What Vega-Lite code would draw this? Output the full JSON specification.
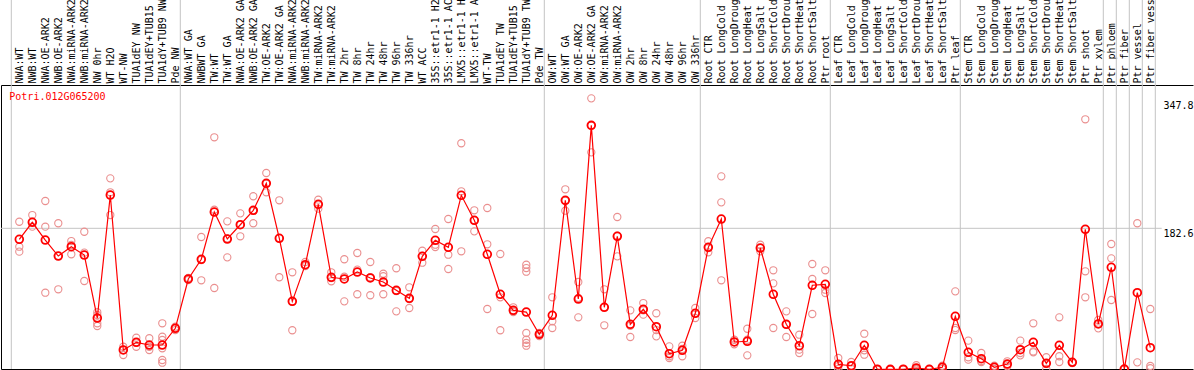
{
 "$schema": "https://vega.github.io/schema/vega-lite/v6.json",
 "width": 1192,
 "height": 284,
 "autosize": "none",
 "padding": {"left": 1, "top": 85, "right": 1, "bottom": 1},
 "background": "white",
 "config": {"view": {"stroke": null}, "font": "DejaVu Sans Mono"},
 "datasets": {
  "means": [
   {"c":"NWA:WT","v":168.4},{"c":"NWB:WT","v":190.3},{"c":"NWA:OE-ARK2","v":167.5},{"c":"NWB:OE-ARK2","v":146.9},{"c":"NWA:miRNA-ARK2","v":158.9},{"c":"NWB:miRNA-ARK2","v":148.2},{"c":"NW 0hr","v":67.0},{"c":"WT H2O","v":225.5},{"c":"WT-NW","v":25.8},{"c":"TUA1dEY NW","v":35.7},{"c":"TUA1dEY+TUB15 NW","v":32.2},{"c":"TUA1dY+TUB9 NW","v":32.2},{"c":"Pde NW","v":53.7},
   {"c":"NWA:WT GA","v":117.3},{"c":"NWBWT GA","v":142.7},{"c":"TW:WT","v":203.6},{"c":"TW:WT GA","v":168.8},{"c":"NWA:OE-ARK2 GA","v":187.2},{"c":"NWB:OE-ARK2 GA","v":205.8},{"c":"TW:OE-ARK2","v":240.6},{"c":"TW:OE-ARK2 GA","v":169.7},{"c":"NWA:miRNA-ARK2 GA","v":88.5},{"c":"NWB:miRNA-ARK2 GA","v":135.7},{"c":"TW:miRNA-ARK2","v":213.5},{"c":"TW:miRNA-ARK2 GA","v":119.5},{"c":"TW 2hr","v":117.3},{"c":"TW 8hr","v":126.3},{"c":"TW 24hr","v":118.6},{"c":"TW 48hr","v":113.4},{"c":"TW 96hr","v":102.7},{"c":"TW 336hr","v":92.4},{"c":"WT ACC","v":146.5},{"c":"35S::etr1-1 H2O","v":167.1},{"c":"35S::etr1-1 ACC","v":158.1},{"c":"LMX5::etr1-1 H2O","v":225.1},{"c":"LMX5::etr1-1 ACC","v":192.9},{"c":"WT-TW","v":149.1},{"c":"TUA1dEY TW","v":97.6},{"c":"TUA1dEY+TUB15 TW","v":76.9},{"c":"TUA1dY+TUB9 TW","v":74.7},{"c":"Pde TW","v":46.0},
   {"c":"OW:WT","v":70.5},{"c":"OW:WT GA","v":218.7},{"c":"OW:OE-ARK2","v":91.5},{"c":"OW:OE-ARK2 GA","v":315.3},{"c":"OW:miRNA-ARK2","v":80.8},{"c":"OW:miRNA-ARK2 GA","v":172.3},{"c":"OW 2hr","v":58.9},{"c":"OW 8hr","v":78.2},{"c":"OW 24hr","v":55.8},{"c":"OW 48hr","v":21.0},{"c":"OW 96hr","v":25.4},{"c":"OW 336hr","v":73.1},
   {"c":"Root CTR","v":158.1},{"c":"Root LongCold","v":194.6},{"c":"Root LongDrought","v":36.1},{"c":"Root LongHeat","v":37.0},{"c":"Root LongSalt","v":157.2},{"c":"Root ShortCold","v":97.6},{"c":"Root ShortDrought","v":58.9},{"c":"Root ShortHeat","v":31.3},{"c":"Root ShortSalt","v":109.2},{"c":"Ptr root","v":110.4},
   {"c":"Leaf CTR","v":7.3},{"c":"Leaf LongCold","v":5.5},{"c":"Leaf LongDrought","v":31.8},{"c":"Leaf LongHeat","v":1.0},{"c":"Leaf LongSalt","v":0.8},{"c":"Leaf ShortCold","v":1.0},{"c":"Leaf ShortDrought","v":2.6},{"c":"Leaf ShortHeat","v":0.9},{"c":"Leaf ShortSalt","v":3.5},{"c":"Ptr leaf","v":69.2},
   {"c":"Stem CTR","v":22.8},{"c":"Stem LongCold","v":14.6},{"c":"Stem LongDrought","v":3.5},{"c":"Stem LongHeat","v":7.7},{"c":"Stem LongSalt","v":26.2},{"c":"Stem ShortCold","v":35.7},{"c":"Stem ShortDrought","v":8.6},{"c":"Stem ShortHeat","v":31.8},{"c":"Stem ShortSalt","v":9.9},{"c":"Ptr shoot","v":181.3},{"c":"Ptr xylem","v":59.3},
   {"c":"Ptr phloem","v":132.4},{"c":"Ptr fiber","v":1.2},{"c":"Ptr vessel","v":99.6},{"c":"Ptr fiber vessel","v":28.7}
  ],
  "reps": [
   {"c":"NWA:WT","v":191.1},{"c":"NWA:WT","v":158.9},{"c":"NWA:WT","v":152.5},
   {"c":"NWB:WT","v":199.7},{"c":"NWB:WT","v":184.7},{"c":"NWB:WT","v":191.1},
   {"c":"NWA:OE-ARK2","v":217.8},{"c":"NWA:OE-ARK2","v":184.7},{"c":"NWA:OE-ARK2","v":99.6},
   {"c":"NWB:OE-ARK2","v":189.1},{"c":"NWB:OE-ARK2","v":104.0},{"c":"NWB:OE-ARK2","v":146.9},
   {"c":"NWA:miRNA-ARK2","v":166.2},{"c":"NWA:miRNA-ARK2","v":149.1},{"c":"NWA:miRNA-ARK2","v":161.1},
   {"c":"NWB:miRNA-ARK2","v":178.2},{"c":"NWB:miRNA-ARK2","v":151.2},{"c":"NWB:miRNA-ARK2","v":114.7},
   {"c":"NW 0hr","v":74.4},{"c":"NW 0hr","v":70.9},{"c":"NW 0hr","v":60.2},{"c":"NW 0hr","v":56.7},
   {"c":"WT H2O","v":247.0},{"c":"WT H2O","v":229.0},{"c":"WT H2O","v":199.7},
   {"c":"WT-NW","v":30.0},{"c":"WT-NW","v":19.3},{"c":"WT-NW","v":25.8},
   {"c":"TUA1dEY NW","v":41.6},{"c":"TUA1dEY NW","v":30.0},{"c":"TUA1dEY NW","v":35.4},
   {"c":"TUA1dEY+TUB15 NW","v":40.9},{"c":"TUA1dEY+TUB15 NW","v":25.8},{"c":"TUA1dEY+TUB15 NW","v":30.0},
   {"c":"TUA1dY+TUB9 NW","v":60.2},{"c":"TUA1dY+TUB9 NW","v":42.9},{"c":"TUA1dY+TUB9 NW","v":38.7},{"c":"TUA1dY+TUB9 NW","v":28.0},{"c":"TUA1dY+TUB9 NW","v":12.9},{"c":"TUA1dY+TUB9 NW","v":9.4},
   {"c":"Pde NW","v":55.8},{"c":"Pde NW","v":51.5},{"c":"Pde NW","v":53.7},
   {"c":"NWA:WT GA","v":118.6},{"c":"NWA:WT GA","v":116.0},{"c":"NWA:WT GA","v":117.3},
   {"c":"NWBWT GA","v":171.4},{"c":"NWBWT GA","v":115.6},{"c":"NWBWT GA","v":141.8},
   {"c":"TW:WT","v":299.9},{"c":"TW:WT","v":206.6},{"c":"TW:WT","v":105.7},
   {"c":"TW:WT GA","v":191.6},{"c":"TW:WT GA","v":145.2},{"c":"TW:WT GA","v":169.5},
   {"c":"NWA:OE-ARK2 GA","v":201.9},{"c":"NWA:OE-ARK2 GA","v":172.3},{"c":"NWA:OE-ARK2 GA","v":187.2},
   {"c":"NWB:OE-ARK2 GA","v":223.9},{"c":"NWB:OE-ARK2 GA","v":189.1},{"c":"NWB:OE-ARK2 GA","v":205.0},
   {"c":"TW:OE-ARK2","v":253.9},{"c":"TW:OE-ARK2","v":229.0},{"c":"TW:OE-ARK2","v":240.0},
   {"c":"TW:OE-ARK2 GA","v":218.7},{"c":"TW:OE-ARK2 GA","v":119.5},{"c":"TW:OE-ARK2 GA","v":170.0},
   {"c":"NWA:miRNA-ARK2 GA","v":125.9},{"c":"NWA:miRNA-ARK2 GA","v":51.2},{"c":"NWA:miRNA-ARK2 GA","v":88.0},
   {"c":"NWB:miRNA-ARK2 GA","v":139.2},{"c":"NWB:miRNA-ARK2 GA","v":134.4},{"c":"NWB:miRNA-ARK2 GA","v":134.0},
   {"c":"TW:miRNA-ARK2","v":219.5},{"c":"TW:miRNA-ARK2","v":207.9},{"c":"TW:miRNA-ARK2","v":213.3},
   {"c":"TW:miRNA-ARK2 GA","v":125.9},{"c":"TW:miRNA-ARK2 GA","v":114.3},{"c":"TW:miRNA-ARK2 GA","v":118.6},
   {"c":"TW 2hr","v":142.7},{"c":"TW 2hr","v":88.5},{"c":"TW 2hr","v":120.2},
   {"c":"TW 8hr","v":150.8},{"c":"TW 8hr","v":129.3},{"c":"TW 8hr","v":97.6},
   {"c":"TW 24hr","v":139.2},{"c":"TW 24hr","v":119.5},{"c":"TW 24hr","v":96.3},
   {"c":"TW 48hr","v":124.1},{"c":"TW 48hr","v":120.8},{"c":"TW 48hr","v":97.6},
   {"c":"TW 96hr","v":131.1},{"c":"TW 96hr","v":75.6},{"c":"TW 96hr","v":101.8},
   {"c":"TW 336hr","v":106.6},{"c":"TW 336hr","v":79.9},{"c":"TW 336hr","v":91.5},
   {"c":"WT ACC","v":153.7},{"c":"WT ACC","v":138.3},{"c":"WT ACC","v":146.9},
   {"c":"35S::etr1-1 H2O","v":181.7},{"c":"35S::etr1-1 H2O","v":161.5},{"c":"35S::etr1-1 H2O","v":158.5},
   {"c":"35S::etr1-1 ACC","v":194.6},{"c":"35S::etr1-1 ACC","v":148.6},{"c":"35S::etr1-1 ACC","v":130.2},
   {"c":"LMX5::etr1-1 H2O","v":292.2},{"c":"LMX5::etr1-1 H2O","v":230.3},{"c":"LMX5::etr1-1 H2O","v":153.0},
   {"c":"LMX5::etr1-1 ACC","v":205.8},{"c":"LMX5::etr1-1 ACC","v":178.7},{"c":"LMX5::etr1-1 ACC","v":193.0},
   {"c":"WT-TW","v":208.8},{"c":"WT-TW","v":162.0},{"c":"WT-TW","v":78.6},
   {"c":"TUA1dEY TW","v":149.5},{"c":"TUA1dEY TW","v":93.7},{"c":"TUA1dEY TW","v":51.2},
   {"c":"TUA1dEY+TUB15 TW","v":80.8},{"c":"TUA1dEY+TUB15 TW","v":74.7},{"c":"TUA1dEY+TUB15 TW","v":76.0},
   {"c":"TUA1dY+TUB9 TW","v":135.7},{"c":"TUA1dY+TUB9 TW","v":131.4},{"c":"TUA1dY+TUB9 TW","v":126.7},{"c":"TUA1dY+TUB9 TW","v":47.7},{"c":"TUA1dY+TUB9 TW","v":39.0},{"c":"TUA1dY+TUB9 TW","v":34.8},{"c":"TUA1dY+TUB9 TW","v":31.3},
   {"c":"Pde TW","v":47.7},{"c":"Pde TW","v":43.8},{"c":"Pde TW","v":46.5},
   {"c":"OW:WT","v":93.7},{"c":"OW:WT","v":62.8},{"c":"OW:WT","v":54.1},
   {"c":"OW:WT GA","v":232.9},{"c":"OW:WT GA","v":205.3},{"c":"OW:WT GA","v":218.0},
   {"c":"OW:OE-ARK2","v":113.4},{"c":"OW:OE-ARK2","v":67.9},{"c":"OW:OE-ARK2","v":93.0},
   {"c":"OW:OE-ARK2 GA","v":350.1},{"c":"OW:OE-ARK2 GA","v":280.5},{"c":"OW:OE-ARK2 GA","v":315.0},
   {"c":"OW:miRNA-ARK2","v":104.0},{"c":"OW:miRNA-ARK2","v":57.6},{"c":"OW:miRNA-ARK2","v":81.0},
   {"c":"OW:miRNA-ARK2 GA","v":197.2},{"c":"OW:miRNA-ARK2 GA","v":146.5},{"c":"OW:miRNA-ARK2 GA","v":173.0},
   {"c":"OW 2hr","v":76.9},{"c":"OW 2hr","v":42.5},{"c":"OW 2hr","v":57.0},
   {"c":"OW 8hr","v":86.3},{"c":"OW 8hr","v":71.3},{"c":"OW 8hr","v":77.0},
   {"c":"OW 24hr","v":73.1},{"c":"OW 24hr","v":43.4},{"c":"OW 24hr","v":51.5},
   {"c":"OW 48hr","v":30.5},{"c":"OW 48hr","v":17.7},{"c":"OW 48hr","v":15.5},
   {"c":"OW 96hr","v":31.3},{"c":"OW 96hr","v":17.7},{"c":"OW 96hr","v":27.1},
   {"c":"OW 336hr","v":79.9},{"c":"OW 336hr","v":67.0},{"c":"OW 336hr","v":73.0},
   {"c":"Root CTR","v":165.9},{"c":"Root CTR","v":151.7},{"c":"Root CTR","v":157.0},
   {"c":"Root LongCold","v":249.6},{"c":"Root LongCold","v":216.1},{"c":"Root LongCold","v":115.6},
   {"c":"Root LongDrought","v":39.0},{"c":"Root LongDrought","v":33.1},{"c":"Root LongDrought","v":36.0},
   {"c":"Root LongHeat","v":53.2},{"c":"Root LongHeat","v":39.0},{"c":"Root LongHeat","v":18.9},
   {"c":"Root LongSalt","v":161.5},{"c":"Root LongSalt","v":153.0},{"c":"Root LongSalt","v":157.0},
   {"c":"Root ShortCold","v":128.5},{"c":"Root ShortCold","v":111.7},{"c":"Root ShortCold","v":54.1},
   {"c":"Root ShortDrought","v":75.6},{"c":"Root ShortDrought","v":42.5},{"c":"Root ShortDrought","v":58.6},
   {"c":"Root ShortHeat","v":45.5},{"c":"Root ShortHeat","v":26.2},{"c":"Root ShortHeat","v":21.9},
   {"c":"Root ShortSalt","v":136.6},{"c":"Root ShortSalt","v":117.3},{"c":"Root ShortSalt","v":72.2},
   {"c":"Ptr root","v":128.5},{"c":"Ptr root","v":103.5},{"c":"Ptr root","v":99.2},
   {"c":"Leaf CTR","v":15.5},{"c":"Leaf CTR","v":1.3},{"c":"Leaf CTR","v":5.0},
   {"c":"Leaf LongCold","v":10.3},{"c":"Leaf LongCold","v":1.3},{"c":"Leaf LongCold","v":5.0},
   {"c":"Leaf LongDrought","v":46.8},{"c":"Leaf LongDrought","v":25.4},{"c":"Leaf LongDrought","v":19.7},
   {"c":"Leaf LongHeat","v":0.5},{"c":"Leaf LongHeat","v":1.5},{"c":"Leaf LongHeat","v":1.0},
   {"c":"Leaf LongSalt","v":0.3},{"c":"Leaf LongSalt","v":1.2},{"c":"Leaf LongSalt","v":0.8},
   {"c":"Leaf ShortCold","v":0.6},{"c":"Leaf ShortCold","v":1.4},{"c":"Leaf ShortCold","v":1.0},
   {"c":"Leaf ShortDrought","v":6.1},{"c":"Leaf ShortDrought","v":1.3},{"c":"Leaf ShortDrought","v":0.5},
   {"c":"Leaf ShortHeat","v":0.4},{"c":"Leaf ShortHeat","v":1.4},{"c":"Leaf ShortHeat","v":0.9},
   {"c":"Leaf ShortSalt","v":5.5},{"c":"Leaf ShortSalt","v":1.3},{"c":"Leaf ShortSalt","v":3.7},
   {"c":"Ptr leaf","v":101.4},{"c":"Ptr leaf","v":54.1},{"c":"Ptr leaf","v":51.5},
   {"c":"Stem CTR","v":37.8},{"c":"Stem CTR","v":16.4},{"c":"Stem CTR","v":13.3},
   {"c":"Stem LongCold","v":21.9},{"c":"Stem LongCold","v":10.3},{"c":"Stem LongCold","v":11.6},
   {"c":"Stem LongDrought","v":5.5},{"c":"Stem LongDrought","v":1.3},{"c":"Stem LongDrought","v":3.7},
   {"c":"Stem LongHeat","v":11.2},{"c":"Stem LongHeat","v":4.8},{"c":"Stem LongHeat","v":7.1},
   {"c":"Stem LongSalt","v":37.8},{"c":"Stem LongSalt","v":18.9},{"c":"Stem LongSalt","v":21.9},
   {"c":"Stem ShortCold","v":60.2},{"c":"Stem ShortCold","v":22.8},{"c":"Stem ShortCold","v":24.0},
   {"c":"Stem ShortDrought","v":16.4},{"c":"Stem ShortDrought","v":1.3},{"c":"Stem ShortDrought","v":8.1},
   {"c":"Stem ShortHeat","v":67.9},{"c":"Stem ShortHeat","v":17.7},{"c":"Stem ShortHeat","v":10.3},
   {"c":"Stem ShortSalt","v":9.0},{"c":"Stem ShortSalt","v":10.5},{"c":"Stem ShortSalt","v":10.2},
   {"c":"Ptr shoot","v":323.1},{"c":"Ptr shoot","v":127.2},{"c":"Ptr shoot","v":93.7},
   {"c":"Ptr xylem","v":64.4},{"c":"Ptr xylem","v":53.7},{"c":"Ptr xylem","v":59.8},
   {"c":"Ptr phloem","v":162.4},{"c":"Ptr phloem","v":143.9},{"c":"Ptr phloem","v":90.2},
   {"c":"Ptr fiber","v":0.6},{"c":"Ptr fiber","v":1.5},{"c":"Ptr fiber","v":1.5},
   {"c":"Ptr vessel","v":189.1},{"c":"Ptr vessel","v":9.9},
   {"c":"Ptr fiber vessel","v":78.6},{"c":"Ptr fiber vessel","v":5.2},{"c":"Ptr fiber vessel","v":2.3}
  ],
  "groupStarts": [
   {"c":"NWA:WT"},{"c":"NWA:WT GA"},{"c":"OW:WT"},{"c":"Root CTR"},{"c":"Leaf CTR"},{"c":"Stem CTR"},{"c":"Ptr phloem"},{"c":"Ptr fiber"},{"c":"Ptr vessel"},{"c":"Ptr fiber vessel"}
  ],
  "groupEnd": [{"c":"Ptr fiber vessel"}],
  "refLine": [{"c":"NWA:WT","c2":"Ptr fiber vessel"}],
  "titleText": [{"c":"NWA:WT","t":"Potri.012G065200"}]
 },
 "encoding": {
  "x": {"field": "c", "type": "nominal", "sort": null,
   "scale": {"type": "point", "padding": 0.34615, "align": 0.5889,
    "domain": [" ","NWA:WT","NWB:WT","NWA:OE-ARK2","NWB:OE-ARK2","NWA:miRNA-ARK2","NWB:miRNA-ARK2","NW 0hr","WT H2O","WT-NW","TUA1dEY NW","TUA1dEY+TUB15 NW","TUA1dY+TUB9 NW","Pde NW","NWA:WT GA","NWBWT GA","TW:WT","TW:WT GA","NWA:OE-ARK2 GA","NWB:OE-ARK2 GA","TW:OE-ARK2","TW:OE-ARK2 GA","NWA:miRNA-ARK2 GA","NWB:miRNA-ARK2 GA","TW:miRNA-ARK2","TW:miRNA-ARK2 GA","TW 2hr","TW 8hr","TW 24hr","TW 48hr","TW 96hr","TW 336hr","WT ACC","35S::etr1-1 H2O","35S::etr1-1 ACC","LMX5::etr1-1 H2O","LMX5::etr1-1 ACC","WT-TW","TUA1dEY TW","TUA1dEY+TUB15 TW","TUA1dY+TUB9 TW","Pde TW","OW:WT","OW:WT GA","OW:OE-ARK2","OW:OE-ARK2 GA","OW:miRNA-ARK2","OW:miRNA-ARK2 GA","OW 2hr","OW 8hr","OW 24hr","OW 48hr","OW 96hr","OW 336hr","Root CTR","Root LongCold","Root LongDrought","Root LongHeat","Root LongSalt","Root ShortCold","Root ShortDrought","Root ShortHeat","Root ShortSalt","Ptr root","Leaf CTR","Leaf LongCold","Leaf LongDrought","Leaf LongHeat","Leaf LongSalt","Leaf ShortCold","Leaf ShortDrought","Leaf ShortHeat","Leaf ShortSalt","Ptr leaf","Stem CTR","Stem LongCold","Stem LongDrought","Stem LongHeat","Stem LongSalt","Stem ShortCold","Stem ShortDrought","Stem ShortHeat","Stem ShortSalt","Ptr shoot","Ptr xylem","Ptr phloem","Ptr fiber","Ptr vessel","Ptr fiber vessel","  ","   ","    "]},
   "axis": null}
 },
 "layer": [
  {"data": {"name": "groupStarts"},
   "mark": {"type": "rule", "color": "#c4c4c4", "strokeWidth": 1, "xOffset": -8},
   "encoding": {"y": {"datum": 480, "type": "quantitative", "scale": {"domain": [1.29, 367.3], "nice": false, "zero": false}, "axis": null}, "y2": {"datum": 1.29}}},
  {"data": {"name": "groupEnd"},
   "mark": {"type": "rule", "color": "#c4c4c4", "strokeWidth": 1, "xOffset": 5},
   "encoding": {"y": {"datum": 480, "type": "quantitative", "scale": {"domain": [1.29, 367.3], "nice": false, "zero": false}, "axis": null}, "y2": {"datum": 1.29}}},
  {"data": {"name": "refLine"},
   "mark": {"type": "rule", "color": "#c4c4c4", "strokeWidth": 1, "xOffset": -18.3, "x2Offset": 11.4},
   "encoding": {"x2": {"field": "c2"}, "y": {"datum": 182.6, "type": "quantitative", "scale": {"domain": [1.29, 367.3], "nice": false, "zero": false}, "axis": null}}},
  {"data": {"name": "reps"},
   "mark": {"type": "point", "shape": "circle", "filled": false, "size": 52, "stroke": "#ea8f8f", "strokeWidth": 1.1, "opacity": 1},
   "encoding": {
    "x": {"field": "c", "type": "nominal", "sort": null,
     "scale": {"type": "point", "padding": 0.34615, "align": 0.5889,
      "domain": [" ","NWA:WT","NWB:WT","NWA:OE-ARK2","NWB:OE-ARK2","NWA:miRNA-ARK2","NWB:miRNA-ARK2","NW 0hr","WT H2O","WT-NW","TUA1dEY NW","TUA1dEY+TUB15 NW","TUA1dY+TUB9 NW","Pde NW","NWA:WT GA","NWBWT GA","TW:WT","TW:WT GA","NWA:OE-ARK2 GA","NWB:OE-ARK2 GA","TW:OE-ARK2","TW:OE-ARK2 GA","NWA:miRNA-ARK2 GA","NWB:miRNA-ARK2 GA","TW:miRNA-ARK2","TW:miRNA-ARK2 GA","TW 2hr","TW 8hr","TW 24hr","TW 48hr","TW 96hr","TW 336hr","WT ACC","35S::etr1-1 H2O","35S::etr1-1 ACC","LMX5::etr1-1 H2O","LMX5::etr1-1 ACC","WT-TW","TUA1dEY TW","TUA1dEY+TUB15 TW","TUA1dY+TUB9 TW","Pde TW","OW:WT","OW:WT GA","OW:OE-ARK2","OW:OE-ARK2 GA","OW:miRNA-ARK2","OW:miRNA-ARK2 GA","OW 2hr","OW 8hr","OW 24hr","OW 48hr","OW 96hr","OW 336hr","Root CTR","Root LongCold","Root LongDrought","Root LongHeat","Root LongSalt","Root ShortCold","Root ShortDrought","Root ShortHeat","Root ShortSalt","Ptr root","Leaf CTR","Leaf LongCold","Leaf LongDrought","Leaf LongHeat","Leaf LongSalt","Leaf ShortCold","Leaf ShortDrought","Leaf ShortHeat","Leaf ShortSalt","Ptr leaf","Stem CTR","Stem LongCold","Stem LongDrought","Stem LongHeat","Stem LongSalt","Stem ShortCold","Stem ShortDrought","Stem ShortHeat","Stem ShortSalt","Ptr shoot","Ptr xylem","Ptr phloem","Ptr fiber","Ptr vessel","Ptr fiber vessel","  ","   ","    "]},
     "axis": {"orient": "bottom", "title": null, "labels": false, "ticks": false, "tickSize": 0, "grid": false, "domain": true, "domainColor": "#000000", "domainWidth": 1}},
    "y": {"field": "v", "type": "quantitative", "scale": {"domain": [1.29, 367.3], "nice": false, "zero": false},
     "axis": {"orient": "left", "title": null, "labels": false, "ticks": false, "tickSize": 0, "grid": false, "domain": true, "domainColor": "#000000", "domainWidth": 1}}
   }},
  {"data": {"name": "means"},
   "mark": {"type": "line", "color": "#ff0000", "strokeWidth": 1.2},
   "encoding": {
    "order": {"value": null},
    "x": {"field": "c", "type": "nominal", "sort": null,
     "scale": {"type": "point", "padding": 0.34615, "align": 0.5889,
      "domain": [" ","NWA:WT","NWB:WT","NWA:OE-ARK2","NWB:OE-ARK2","NWA:miRNA-ARK2","NWB:miRNA-ARK2","NW 0hr","WT H2O","WT-NW","TUA1dEY NW","TUA1dEY+TUB15 NW","TUA1dY+TUB9 NW","Pde NW","NWA:WT GA","NWBWT GA","TW:WT","TW:WT GA","NWA:OE-ARK2 GA","NWB:OE-ARK2 GA","TW:OE-ARK2","TW:OE-ARK2 GA","NWA:miRNA-ARK2 GA","NWB:miRNA-ARK2 GA","TW:miRNA-ARK2","TW:miRNA-ARK2 GA","TW 2hr","TW 8hr","TW 24hr","TW 48hr","TW 96hr","TW 336hr","WT ACC","35S::etr1-1 H2O","35S::etr1-1 ACC","LMX5::etr1-1 H2O","LMX5::etr1-1 ACC","WT-TW","TUA1dEY TW","TUA1dEY+TUB15 TW","TUA1dY+TUB9 TW","Pde TW","OW:WT","OW:WT GA","OW:OE-ARK2","OW:OE-ARK2 GA","OW:miRNA-ARK2","OW:miRNA-ARK2 GA","OW 2hr","OW 8hr","OW 24hr","OW 48hr","OW 96hr","OW 336hr","Root CTR","Root LongCold","Root LongDrought","Root LongHeat","Root LongSalt","Root ShortCold","Root ShortDrought","Root ShortHeat","Root ShortSalt","Ptr root","Leaf CTR","Leaf LongCold","Leaf LongDrought","Leaf LongHeat","Leaf LongSalt","Leaf ShortCold","Leaf ShortDrought","Leaf ShortHeat","Leaf ShortSalt","Ptr leaf","Stem CTR","Stem LongCold","Stem LongDrought","Stem LongHeat","Stem LongSalt","Stem ShortCold","Stem ShortDrought","Stem ShortHeat","Stem ShortSalt","Ptr shoot","Ptr xylem","Ptr phloem","Ptr fiber","Ptr vessel","Ptr fiber vessel","  ","   ","    "]},
     "axis": {"orient": "top", "title": null, "ticks": false, "tickSize": 0, "grid": false, "domain": true, "domainColor": "#000000", "domainWidth": 1,
      "labelAngle": 270, "labelAlign": "left", "labelBaseline": "middle", "labelPadding": 2,
      "labelFont": "DejaVu Sans Mono", "labelFontSize": 10, "labelColor": "#000000",
      "labelLimit": 500, "labelOverlap": false, "labelBound": false, "labelFlush": false}},
    "y": {"field": "v", "type": "quantitative", "scale": {"domain": [1.29, 367.3], "nice": false, "zero": false},
     "axis": {"orient": "right", "offset": -30, "title": null, "ticks": false, "tickSize": 0, "grid": false, "domain": false,
      "values": [0, 182.6, 347.8], "labelExpr": "'' + datum.value", "labelPadding": 0, "labelAlign": "left",
      "labelBaseline": {"condition": {"test": "datum.value === 0", "value": "bottom"}, "value": "top"},
      "labelFont": "DejaVu Sans Mono", "labelFontSize": 10, "labelColor": "#000000",
      "labelOverlap": false, "labelFlush": false, "labelBound": false}}
   }},
  {"data": {"name": "means"},
   "mark": {"type": "point", "shape": "circle", "filled": false, "size": 60, "stroke": "#ff0000", "strokeWidth": 1.8, "opacity": 1},
   "encoding": {"y": {"field": "v", "type": "quantitative", "scale": {"domain": [1.29, 367.3], "nice": false, "zero": false}, "axis": null}}},
  {"data": {"name": "titleText"},
   "mark": {"type": "text", "align": "left", "baseline": "middle", "dx": -10, "color": "#ff0000", "font": "DejaVu Sans Mono", "fontSize": 10},
   "encoding": {"text": {"field": "t"},
    "y": {"datum": 352.2, "type": "quantitative", "scale": {"domain": [1.29, 367.3], "nice": false, "zero": false}, "axis": null}}}
 ],
 "resolve": {"axis": {"x": "independent", "y": "independent"}}
}
